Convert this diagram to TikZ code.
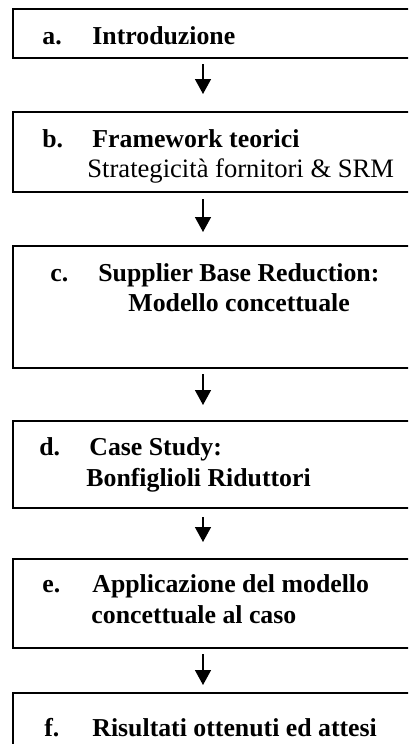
\documentclass[tikz,border=0pt]{standalone}
\usepackage{fontspec}
\setmainfont{Liberation Serif}
\usetikzlibrary{arrows.meta,calc}
\begin{document}
\begin{tikzpicture}[x=0.5pt,y=-0.5pt,
  stepbox/.style={draw, line width=1pt, rectangle, anchor=north west,
    inner sep=0pt, minimum width=209pt},
  lbl/.style={anchor=base west, inner sep=0pt,
    font=\fontsize{12.9}{15.5}\selectfont\bfseries},
  sub/.style={anchor=base west, inner sep=0pt,
    font=\fontsize{13.3}{15.8}\selectfont},
  flow/.style={line width=0.75pt, -{Triangle[length=7.5pt,width=8pt]}}]
\useasboundingbox (0,0) rectangle (408,744);
\clip (0,0) rectangle (408,744);
\fill[white] (0,0) rectangle (408,744);
\coordinate (spine) at (203,0);

% boxes
\node[stepbox, minimum height=24.5pt] (a) at (12,8) {};
\node[stepbox, minimum height=40pt]   (b) at (12,111) {};
\node[stepbox, minimum height=61pt]   (c) at (12,245) {};
\node[stepbox, minimum height=43.5pt] (d) at (12,420) {};
\node[stepbox, minimum height=44.5pt] (e) at (12,558) {};
\node[stepbox, minimum height=45pt]   (f) at (12,692) {};

% labels
\node[lbl] (a-n) at (42,44) {a.};
\node[lbl] (a-t) at (92,44) {Introduzione};

\node[lbl] (b-n) at (42,147) {b.};
\node[lbl] (b-t) at (92,147) {Framework teorici};
\node[sub] (b-s) at (87,177) {Strategicità fornitori \& SRM};

\node[lbl] (c-n) at (50,281) {c.};
\node[lbl] (c-t) at (98,281) {Supplier Base Reduction:};
\node[lbl] (c-s) at (128,311) {Modello concettuale};

\node[lbl] (d-n) at (39,455) {d.};
\node[lbl] (d-t) at (89,455) {Case Study:};
\node[lbl] (d-s) at (86,486) {Bonfiglioli Riduttori};

\node[lbl] (e-n) at (42,592) {e.};
\node[lbl] (e-t) at (92,592) {Applicazione del modello};
\node[lbl] (e-s) at (91,623) {concettuale al caso};

\node[lbl] (f-n) at (44,736) {f.};
\node[lbl] (f-t) at (92,736) {Risultati ottenuti ed attesi};

% connectors
\draw[flow] ($(a.south -| spine)+(0,5)$) -- ($(b.north -| spine)-(0,17)$);
\draw[flow] ($(b.south -| spine)+(0,6)$) -- ($(c.north -| spine)-(0,13)$);
\draw[flow] ($(c.south -| spine)+(0,5)$) -- ($(d.north -| spine)-(0,15)$);
\draw[flow] ($(d.south -| spine)+(0,8)$) -- ($(e.north -| spine)-(0,16)$);
\draw[flow] ($(e.south -| spine)+(0,5)$) -- ($(f.north -| spine)-(0,7)$);
\end{tikzpicture}
\end{document}
